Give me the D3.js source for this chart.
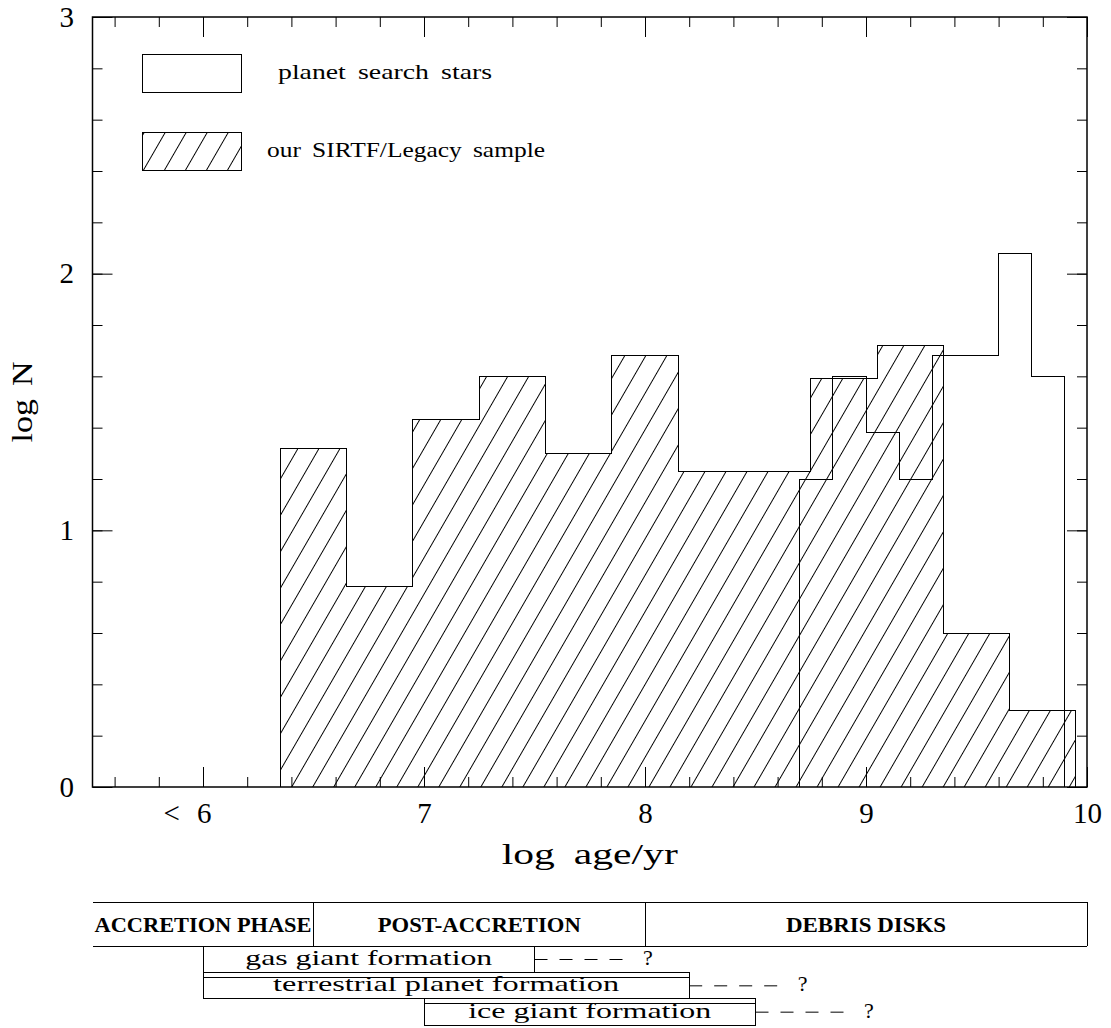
<!DOCTYPE html>
<html>
<head>
<meta charset="utf-8">
<script src="https://cdn.jsdelivr.net/npm/d3@7"></script>
<style>
  body { margin: 0; background: #fff; }
  svg { display: block; background: #fff; }
  text { font-family: "Liberation Serif", "DejaVu Serif", serif; fill: #000; }
</style>
</head>
<body>
<svg id="chart" width="1111" height="1028"></svg>
<script>
// hatched histogram: our SIRTF/Legacy sample (bin edges in log age/yr, heights in log N)
var legacyEdges = [6.35, 6.65, 6.95, 7.25, 7.55, 7.85, 8.15, 8.45, 8.75, 9.05, 9.35, 9.65, 9.95];
var legacyLogN  = [1.32, 0.78, 1.43, 1.60, 1.30, 1.68, 1.23, 1.23, 1.59, 1.72, 0.60, 0.30];

// open histogram: planet search stars
var planetEdges = [8.70, 8.85, 9.00, 9.15, 9.30, 9.45, 9.60, 9.75, 9.90];
var planetLogN  = [1.20, 1.60, 1.38, 1.20, 1.68, 1.68, 2.08, 1.60];

var xMajor  = [6, 7, 8, 9, 10];
var xLabels = ['< 6', '7', '8', '9', '10'];
var yMajor  = [0, 1, 2, 3];

var legendNames = ['planet search stars', 'our SIRTF/Legacy sample'];

var phaseNames = ['ACCRETION PHASE', 'POST-ACCRETION', 'DEBRIS DISKS'];
var phaseStart = [5.5, 6.5, 8.0];
var phaseEnd   = [6.5, 8.0, 10.0];

var formNames = ['gas giant formation', 'terrestrial planet formation', 'ice giant formation'];
var formStart = [6.0, 6.0, 7.0];
var formEnd   = [7.5, 8.2, 8.5];
var formGuess = [7.95, 8.65, 8.95];   // end of the dashed "?" extension

// layout
var svg = d3.select('#chart');
var x = d3.scaleLinear().domain([5.5, 10]).range([92.5, 1087]);
var y = d3.scaleLinear().domain([0, 3]).range([787, 17]);

var defs = svg.append('defs');
defs.append('pattern')
    .attr('id', 'hatch')
    .attr('patternUnits', 'userSpaceOnUse')
    .attr('width', 18.2)
    .attr('height', 10)
    .attr('patternTransform', 'rotate(30)')
  .append('line')
    .attr('x1', 9.1).attr('y1', -1)
    .attr('x2', 9.1).attr('y2', 11)
    .attr('stroke', '#000')
    .attr('stroke-width', 1);

// stretch text to the wide look of the original plotting font
function stretch(sel, w) {
  sel.attr('textLength', w).attr('lengthAdjust', 'spacingAndGlyphs');
}

function stepPoints(edges, vals) {
  var pts = [[edges[0], 0]];
  vals.forEach(function(v, i) { pts.push([edges[i], v]); });
  pts.push([edges[edges.length - 1], vals[vals.length - 1]]);
  pts.push([edges[edges.length - 1], 0]);
  return pts;
}

var stepLine = d3.line()
  .x(function(d) { return x(d[0]); })
  .y(function(d) { return y(d[1]); })
  .curve(d3.curveStepAfter);

// histograms
var legacyPts = stepPoints(legacyEdges, legacyLogN);
svg.append('path')
  .attr('d', stepLine(legacyPts))
  .attr('fill', 'url(#hatch)')
  .attr('stroke', 'none');
svg.append('path')
  .attr('d', stepLine(legacyPts))
  .attr('fill', 'none')
  .attr('stroke', '#000')
  .attr('stroke-width', 1)
  .attr('shape-rendering', 'crispEdges');

svg.append('path')
  .attr('d', stepLine(stepPoints(planetEdges, planetLogN)))
  .attr('fill', 'none')
  .attr('stroke', '#000')
  .attr('stroke-width', 1)
  .attr('shape-rendering', 'crispEdges');

// axes: minor ticks every 0.2, majors with labels, mirrored on all sides
var xMinor = d3.range(56, 100, 2).map(function(d) { return d / 10; });
var yMinor = d3.range(2, 30, 2).map(function(d) { return d / 10; });

function cleanAxis(g) {
  g.select('.domain').remove();
  g.attr('font-size', 29).attr('font-family', null);
  g.selectAll('line').attr('stroke', '#000');
}

svg.append('g').attr('transform', 'translate(0,' + y(0) + ')')
  .call(d3.axisBottom(x).tickValues(xMinor).tickSize(-10).tickSizeOuter(0).tickFormat(''))
  .call(cleanAxis);
svg.append('g').attr('transform', 'translate(0,' + y(3) + ')')
  .call(d3.axisTop(x).tickValues(xMinor).tickSize(-10).tickSizeOuter(0).tickFormat(''))
  .call(cleanAxis);
svg.append('g').attr('transform', 'translate(0,' + y(3) + ')')
  .call(d3.axisTop(x).tickValues(xMajor).tickSize(-20).tickSizeOuter(0).tickFormat(''))
  .call(cleanAxis);

var xAxis = svg.append('g').attr('transform', 'translate(0,' + y(0) + ')')
  .call(d3.axisBottom(x).tickValues(xMajor).tickSize(-20).tickSizeOuter(0).tickPadding(15)
    .tickFormat(function(d, i) { return xLabels[i]; }))
  .call(cleanAxis);
xAxis.selectAll('.tick text')
  .filter(function(d) { return d === 6; })
  .attr('text-anchor', 'end')
  .attr('x', 8)
  .attr('textLength', 48)
  .attr('lengthAdjust', 'spacing');

svg.append('g').attr('transform', 'translate(' + x(5.5) + ',0)')
  .call(d3.axisLeft(y).tickValues(yMinor).tickSize(-10).tickSizeOuter(0).tickFormat(''))
  .call(cleanAxis);
svg.append('g').attr('transform', 'translate(' + x(5.5) + ',0)')
  .call(d3.axisLeft(y).tickValues(yMajor).tickSize(-20).tickSizeOuter(0).tickPadding(18.5)
    .tickFormat(d3.format('d')))
  .call(cleanAxis);
svg.append('g').attr('transform', 'translate(' + x(10) + ',0)')
  .call(d3.axisRight(y).tickValues(yMinor).tickSize(-10).tickSizeOuter(0).tickFormat(''))
  .call(cleanAxis);
svg.append('g').attr('transform', 'translate(' + x(10) + ',0)')
  .call(d3.axisRight(y).tickValues(yMajor).tickSize(-20).tickSizeOuter(0).tickFormat(''))
  .call(cleanAxis);

// frame
svg.append('rect')
  .attr('x', x(5.5)).attr('y', y(3))
  .attr('width', x(10) - x(5.5)).attr('height', y(0) - y(3))
  .attr('fill', 'none')
  .attr('stroke', '#000')
  .attr('stroke-width', 1.5);

// axis titles
svg.append('text')
  .attr('x', (x(5.5) + x(10)) / 2).attr('y', 864)
  .attr('text-anchor', 'middle')
  .attr('font-size', 29)
  .style('word-spacing', '6px')
  .call(stretch, 176)
  .text('log age/yr');

svg.append('text')
  .attr('transform', 'translate(32,' + (y(0) + y(3)) / 2 + ') rotate(-90)')
  .attr('text-anchor', 'middle')
  .attr('font-size', 29)
  .style('word-spacing', '4px')
  .call(stretch, 81)
  .text('log N');

// legend
var legBoxY = [54, 132];
var legTextX = [278, 267];
var legTextW = [214, 278];
legendNames.forEach(function(name, i) {
  svg.append('rect')
    .attr('x', 142).attr('y', legBoxY[i])
    .attr('width', 99).attr('height', 38.5)
    .attr('fill', i === 1 ? 'url(#hatch)' : 'none')
    .attr('stroke', '#000')
    .attr('stroke-width', 1)
    .attr('shape-rendering', 'crispEdges');
  svg.append('text')
    .attr('x', legTextX[i]).attr('y', legBoxY[i] + 25)
    .attr('font-size', 21)
    .style('word-spacing', '4px')
    .call(stretch, legTextW[i])
    .text(name);
});

// lower panel: evolutionary phases
var phaseTop = 902, phaseBottom = 946;
var phaseTextW = [217, 203, 160];
var lower = svg.append('g')
  .attr('stroke', '#000')
  .attr('stroke-width', 1)
  .attr('shape-rendering', 'crispEdges');

[phaseTop, phaseBottom].forEach(function(yy) {
  lower.append('line')
    .attr('x1', x(5.5)).attr('x2', x(10))
    .attr('y1', yy).attr('y2', yy);
});
phaseEnd.forEach(function(e) {
  lower.append('line')
    .attr('x1', x(e)).attr('x2', x(e))
    .attr('y1', phaseTop).attr('y2', phaseBottom);
});
phaseNames.forEach(function(name, i) {
  svg.append('text')
    .attr('x', (x(phaseStart[i]) + x(phaseEnd[i])) / 2)
    .attr('y', 932)
    .attr('text-anchor', 'middle')
    .attr('font-size', 22)
    .attr('font-weight', 'bold')
    .call(stretch, phaseTextW[i])
    .text(name);
});

// formation periods
var row = d3.scaleBand().domain(formNames).range([phaseBottom, 1025]);
var formTextW = [247, 346, 243];
formNames.forEach(function(name, i) {
  var top = row(name), h = row.bandwidth();
  lower.append('rect')
    .attr('x', x(formStart[i])).attr('y', top)
    .attr('width', x(formEnd[i]) - x(formStart[i])).attr('height', h)
    .attr('fill', 'none');
  if (i > 0) {
    lower.append('line')
      .attr('x1', x(formStart[i])).attr('x2', x(formEnd[i]))
      .attr('y1', top + 5).attr('y2', top + 5);
  }
  svg.append('line')
    .attr('x1', x(formEnd[i])).attr('x2', x(formGuess[i]))
    .attr('y1', top + 13.5).attr('y2', top + 13.5)
    .attr('stroke', '#000')
    .attr('stroke-width', 1)
    .attr('stroke-dasharray', '13,12');
  svg.append('text')
    .attr('x', (x(formStart[i]) + x(formEnd[i])) / 2)
    .attr('y', top + 19)
    .attr('text-anchor', 'middle')
    .attr('font-size', 22)
    .call(stretch, formTextW[i])
    .text(name);
  svg.append('text')
    .attr('x', x(formGuess[i]) + 9)
    .attr('y', top + 19)
    .attr('font-size', 22)
    .text('?');
});
</script>
</body>
</html>
